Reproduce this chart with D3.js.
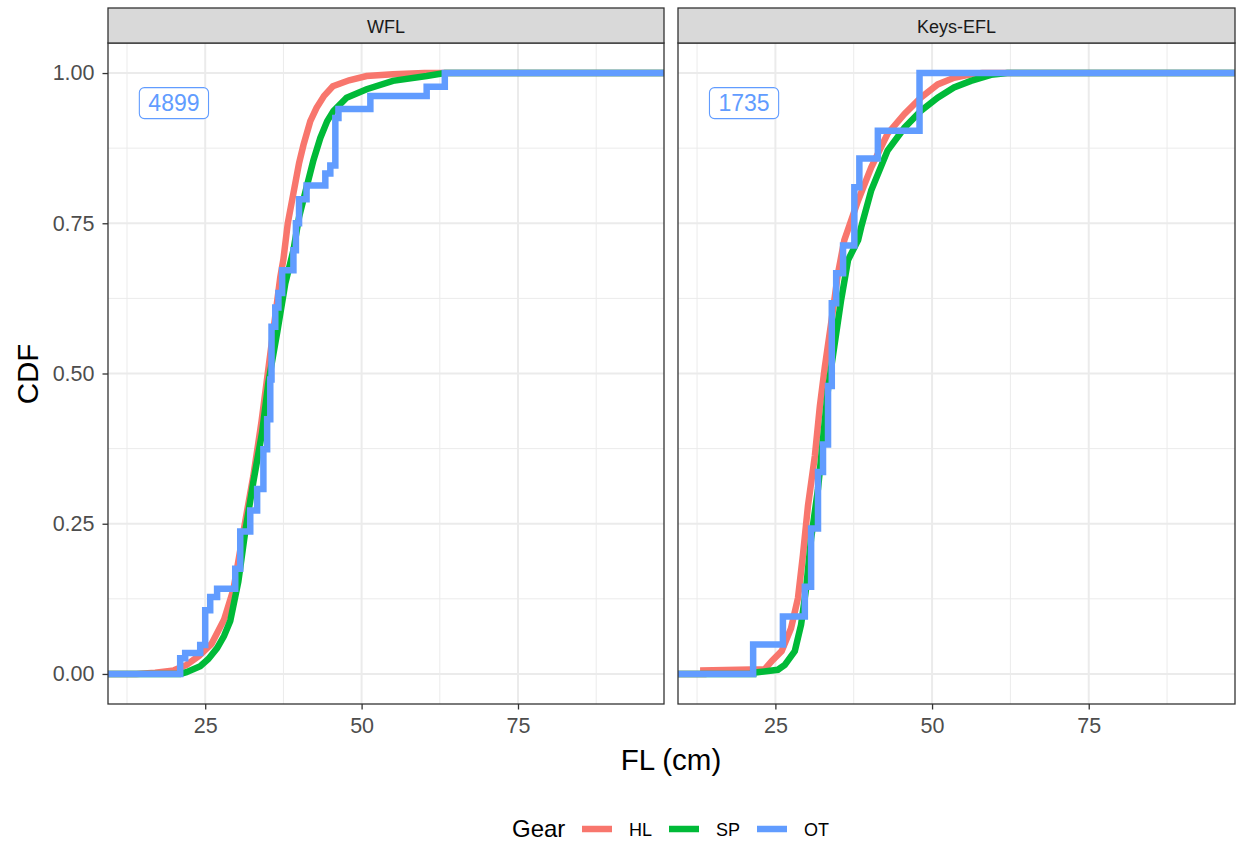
<!DOCTYPE html>
<html><head><meta charset="utf-8">
<script src="https://cdn.jsdelivr.net/npm/d3@7"></script>
<style>body{margin:0;background:#fff} svg{display:block} text{font-family:"Liberation Sans",Arial,sans-serif}</style>
</head><body><svg id="c" width="1239" height="841"></svg>
<script>
// ---------- data ----------
const panels = ["WFL", "Keys-EFL"];
const gears = ["HL", "SP", "OT"];
const gearColors = ["#F8766D", "#00BA38", "#619CFF"];
const countLabels = ["4899", "1735"];
const xTicks = [25, 50, 75];
const xMinorTicks = [12.5, 37.5, 62.5, 87.5];
const yTicks = [0, 0.25, 0.5, 0.75, 1];
const yMinorTicks = [0.125, 0.375, 0.625, 0.875];
const yTickLabels = ["0.00", "0.25", "0.50", "0.75", "1.00"];
const xDomain = [9.46, 98.34];

// WFL panel
const wflHL_x = [14, 17, 20, 22, 24, 26, 28, 29.5, 30.5, 31.5, 32.7, 34, 35, 36, 37, 37.5, 38.2, 39.1, 40, 40.7, 41.8, 42.8, 44, 45.4, 48, 50.8, 55, 60];
const wflHL_y = [0, 0.002, 0.006, 0.015, 0.03, 0.05, 0.09, 0.14, 0.2, 0.26, 0.33, 0.42, 0.5, 0.58, 0.66, 0.69, 0.75, 0.8, 0.85, 0.88, 0.92, 0.942, 0.962, 0.978, 0.988, 0.995, 0.998, 1];
const wflSP_x = [21, 22, 24.2, 25.5, 26.9, 28, 29, 30.3, 31.4, 32.7, 34.1, 35.1, 36.5, 37.8, 39.1, 40, 41.2, 42.3, 43.4, 44.5, 45.5, 47.6, 50.8, 55, 60.4, 63.3];
const wflSP_y = [0, 0.003, 0.013, 0.025, 0.043, 0.063, 0.088, 0.154, 0.237, 0.32, 0.402, 0.485, 0.568, 0.65, 0.705, 0.76, 0.81, 0.855, 0.892, 0.92, 0.937, 0.959, 0.973, 0.987, 0.995, 1];
const wflOT_x = [21.0, 21.8, 24.2, 25.0, 25.8, 26.9, 29.8, 30.6, 32.2, 33.3, 34.3, 34.9, 35.4, 35.6, 36.2, 36.7, 37.3, 39.1, 39.5, 40.0, 41.2, 44.2, 45.0, 45.8, 46.3, 51.4, 60.4, 63.3];
const wflOT_y = [0.026, 0.035, 0.048, 0.106, 0.128, 0.142, 0.175, 0.237, 0.272, 0.308, 0.374, 0.424, 0.49, 0.578, 0.61, 0.634, 0.672, 0.705, 0.75, 0.79, 0.813, 0.833, 0.846, 0.925, 0.94, 0.962, 0.977, 1];

// Keys-EFL panel
const kefHL_x = [13.5, 23.3, 24.4, 26.0, 27.5, 28.6, 29.4, 30.2, 31.3, 32.1, 32.9, 33.9, 35.0, 36.0, 38.2, 40.3, 42.9, 45.6, 48.2, 50.9, 53.5, 56.2, 58];
const kefHL_y = [0.006, 0.008, 0.021, 0.038, 0.076, 0.126, 0.198, 0.28, 0.363, 0.446, 0.512, 0.584, 0.667, 0.722, 0.788, 0.843, 0.899, 0.932, 0.959, 0.981, 0.992, 0.998, 1];
const kefSP_x = [21.45, 25.4, 26.5, 28.1, 29.1, 29.9, 30.7, 31.8, 32.6, 33.4, 34.4, 35.5, 36.6, 38.2, 38.7, 40.3, 42.9, 45.6, 48.2, 50.9, 53.5, 56.2, 59.4, 62];
const kefSP_y = [0.002, 0.007, 0.015, 0.038, 0.082, 0.142, 0.225, 0.308, 0.391, 0.474, 0.545, 0.623, 0.689, 0.722, 0.744, 0.805, 0.871, 0.909, 0.937, 0.959, 0.976, 0.987, 0.997, 1];
const kefOT_x = [21.45, 26.2, 29.7, 30.7, 31.8, 32.6, 33.4, 34.0, 34.7, 35.8, 37.6, 38.4, 41.35, 48.0];
const kefOT_y = [0.049, 0.0955, 0.145, 0.242, 0.336, 0.382, 0.479, 0.617, 0.667, 0.713, 0.81, 0.858, 0.904, 1];

const labelX = 20, labelY = 0.95;

// ---------- build ----------
const series = [
  [[wflHL_x, wflHL_y], [wflSP_x, wflSP_y], [wflOT_x, wflOT_y]],
  [[kefHL_x, kefHL_y], [kefSP_x, kefSP_y], [kefOT_x, kefOT_y]]
];
const FONT = '"Liberation Sans",Arial,sans-serif';
const svg = d3.select("#c");
const panelX = [[108, 664], [678, 1235]];
const stripTop = 8, panelTop = 43, panelBottom = 704;
const y = d3.scaleLinear().domain([-0.05, 1.05]).range([panelBottom, panelTop]);

panels.forEach((name, pi) => {
  const x = d3.scaleLinear().domain(xDomain).range(panelX[pi]);
  const g = svg.append("g");
  const [x0, x1] = panelX[pi];
  g.append("rect").attr("x", x0).attr("y", panelTop).attr("width", x1 - x0).attr("height", panelBottom - panelTop).attr("fill", "#fff");
  // grid
  g.selectAll(".xmin").data(xMinorTicks).join("line")
    .attr("x1", d => x(d)).attr("x2", d => x(d)).attr("y1", panelTop).attr("y2", panelBottom)
    .attr("stroke", "#EBEBEB").attr("stroke-width", 1);
  g.selectAll(".ymin").data(yMinorTicks).join("line")
    .attr("x1", x0).attr("x2", x1).attr("y1", d => y(d)).attr("y2", d => y(d))
    .attr("stroke", "#EBEBEB").attr("stroke-width", 1);
  g.selectAll(".xmaj").data(xTicks).join("line")
    .attr("x1", d => x(d)).attr("x2", d => x(d)).attr("y1", panelTop).attr("y2", panelBottom)
    .attr("stroke", "#EBEBEB").attr("stroke-width", 2);
  g.selectAll(".ymaj").data(yTicks).join("line")
    .attr("x1", x0).attr("x2", x1).attr("y1", d => y(d)).attr("y2", d => y(d))
    .attr("stroke", "#EBEBEB").attr("stroke-width", 2);

  const cid = "clip" + pi;
  svg.append("clipPath").attr("id", cid).append("rect")
    .attr("x", x0).attr("y", panelTop).attr("width", x1 - x0).attr("height", panelBottom - panelTop);
  const lg = g.append("g").attr("clip-path", `url(#${cid})`);

  series[pi].forEach(([xs, ys], si) => {
    const pts = [[xDomain[0], 0]];
    if (si < 2) pts.push([xs[0], 0]);
    xs.forEach((v, i) => pts.push([v, ys[i]]));
    pts.push([xDomain[1], 1]);
    const line = d3.line().x(d => x(d[0])).y(d => y(d[1]))
      .curve(si === 2 ? d3.curveStepAfter : d3.curveLinear);
    lg.append("path").datum(pts).attr("d", line)
      .attr("fill", "none").attr("stroke", gearColors[si]).attr("stroke-width", 6.5)
      .attr("stroke-linejoin", "miter").attr("stroke-linecap", "butt");
  });

  // count label
  const lx = x(labelX), ly = y(labelY);
  const lt = g.append("text").attr("x", lx).attr("y", ly).attr("text-anchor", "middle")
    .attr("dominant-baseline", "central").attr("font-size", 23).attr("fill", "#619CFF").text(countLabels[pi]);
  const bb = lt.node().getBBox();
  g.insert("rect", "text").attr("x", bb.x - 9).attr("y", ly - 15.5).attr("width", bb.width + 18).attr("height", 31)
    .attr("rx", 5).attr("fill", "#fff").attr("stroke", "#619CFF").attr("stroke-width", 1.1);

  // border
  g.append("rect").attr("x", x0).attr("y", panelTop).attr("width", x1 - x0).attr("height", panelBottom - panelTop)
    .attr("fill", "none").attr("stroke", "#333").attr("stroke-width", 1.3);
  // strip
  g.append("rect").attr("x", x0).attr("y", stripTop).attr("width", x1 - x0).attr("height", panelTop - stripTop)
    .attr("fill", "#D9D9D9").attr("stroke", "#333").attr("stroke-width", 1.3);
  g.append("text").attr("x", (x0 + x1) / 2).attr("y", (stripTop + panelTop) / 2 + 1).attr("text-anchor", "middle")
    .attr("dominant-baseline", "central").attr("font-size", 18).attr("fill", "#1a1a1a").text(name);

  // x axis
  const xa = g.append("g").attr("transform", `translate(0,${panelBottom})`)
    .call(d3.axisBottom(x).tickValues(xTicks).tickSize(5.5).tickPadding(8).tickFormat(d3.format("d")));
  xa.select(".domain").remove();
  xa.selectAll("line").attr("stroke", "#333").attr("stroke-width", 1.3);
  xa.selectAll("text").attr("font-size", 21.5).attr("fill", "#4D4D4D").attr("font-family", FONT);

  if (pi === 0) {
    const ya = g.append("g").attr("transform", `translate(${x0},0)`)
      .call(d3.axisLeft(y).tickValues(yTicks).tickSize(5.5).tickPadding(8).tickFormat((d, i) => yTickLabels[i]));
    ya.select(".domain").remove();
    ya.selectAll("line").attr("stroke", "#333").attr("stroke-width", 1.3);
    ya.selectAll("text").attr("font-size", 21.5).attr("fill", "#4D4D4D").attr("font-family", FONT);
  }
});

// axis titles
svg.append("text").attr("x", 671).attr("y", 770).attr("text-anchor", "middle")
  .attr("font-size", 29.5).attr("fill", "#000").text("FL (cm)");
svg.append("text").attr("transform", "translate(38,374) rotate(-90)").attr("text-anchor", "middle")
  .attr("font-size", 29.5).attr("fill", "#000").text("CDF");

// legend
const leg = svg.append("g");
leg.append("text").attr("x", 512).attr("y", 837).attr("font-size", 24).attr("fill", "#000").text("Gear");
const keyX = [582, 669, 757];
gears.forEach((gname, i) => {
  leg.append("line").attr("x1", keyX[i]).attr("x2", keyX[i] + 30).attr("y1", 829).attr("y2", 829)
    .attr("stroke", gearColors[i]).attr("stroke-width", 6.5);
  leg.append("text").attr("x", keyX[i] + 47).attr("y", 836).attr("font-size", 18).attr("fill", "#000").text(gname);
});
</script></body></html>
